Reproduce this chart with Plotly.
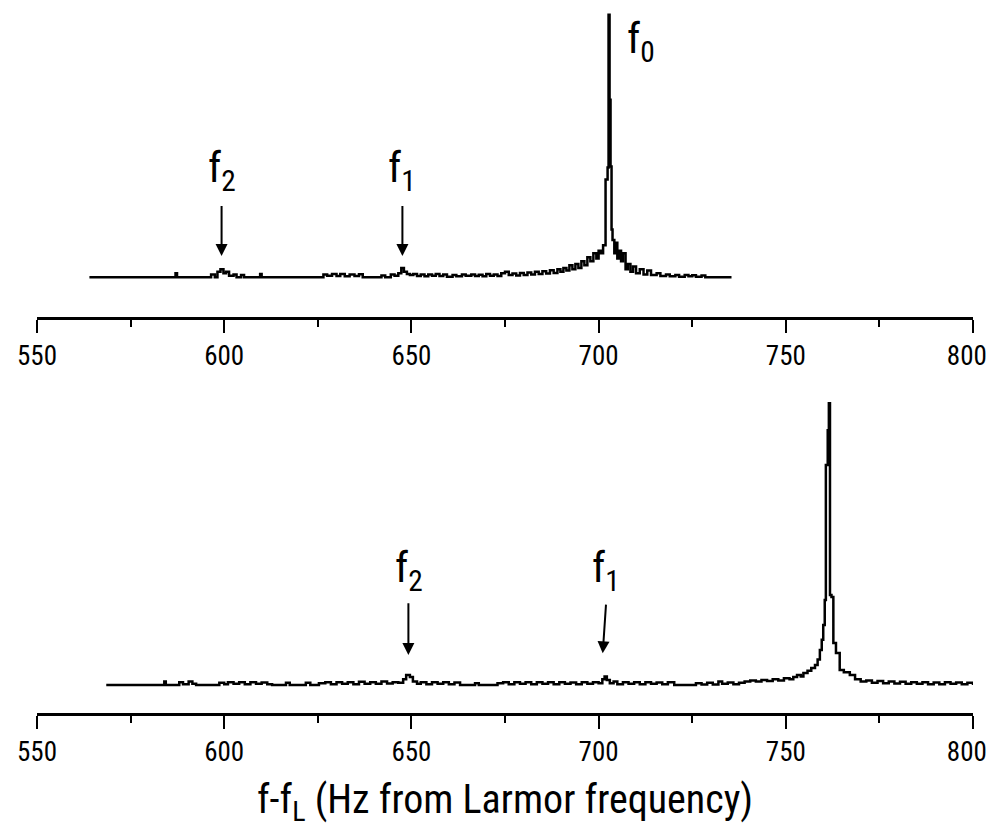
import plotly.graph_objects as go

# top spectrum (Hz from Larmor, relative amplitude)
top_freq = [564.0, 587.0, 587.4, 596.5, 597.5, 598.2, 599.0, 599.8, 600.5, 601.3, 602.5, 603.3,
            604.5, 605.3, 609.6, 610.0, 626.5, 627.5, 628.8, 630.0, 631.0, 632.2, 633.5, 634.8,
            636.0, 637.0, 642.0, 643.0, 644.5, 645.5, 646.5, 647.3, 648.0, 648.8, 649.6, 650.5,
            651.5, 652.5, 653.5, 654.5, 655.5, 656.5, 657.5, 658.5, 659.5, 661.0, 662.0, 663.5,
            664.5, 666.0, 667.0, 668.0, 669.0, 670.0, 671.0, 672.0, 673.0, 674.0, 675.0, 676.0,
            677.0, 678.0, 679.0, 680.0, 681.0, 682.0, 683.0, 684.0, 685.0, 686.0, 687.0, 688.0,
            689.0, 689.8, 690.6, 691.4, 692.2, 693.0, 693.8, 694.6, 695.4, 696.2, 697.0, 697.8,
            698.6, 699.4, 700.0, 700.6, 701.2, 701.86, 702.4, 702.66, 702.93, 703.19, 703.46, 703.72,
            704.2, 704.6, 705.0, 705.5, 706.0, 706.5, 707.2, 707.8, 708.5, 709.2, 710.0, 711.0,
            712.0, 713.0, 714.0, 715.5, 716.5, 718.0, 719.0, 720.5, 721.5, 723.0, 724.0, 725.0,
            726.0, 727.5, 728.5, 735.5]
top_amp = [0.0, 0.015, 0.0, 0.01, 0.0, 0.02, 0.03, 0.015, 0.02, 0.005, 0.01, 0.0,
           0.008, 0.0, 0.012, 0.0, 0.01, 0.005, 0.012, 0.004, 0.012, 0.003, 0.01, 0.004,
           0.011, 0.0, 0.006, 0.0, 0.01, 0.005, 0.015, 0.035, 0.02, 0.012, 0.008, 0.012,
           0.004, 0.01, 0.003, 0.01, 0.005, 0.012, 0.004, 0.01, 0.002, 0.008, 0.003, 0.01,
           0.005, 0.01, 0.004, 0.009, 0.003, 0.012, 0.005, 0.01, 0.004, 0.015, 0.02, 0.008,
           0.014, 0.006, 0.016, 0.008, 0.018, 0.01, 0.02, 0.012, 0.022, 0.014, 0.026, 0.016,
           0.03, 0.02, 0.035, 0.025, 0.045, 0.03, 0.05, 0.035, 0.06, 0.045, 0.075, 0.06,
           0.09, 0.07, 0.1, 0.09, 0.12, 0.368, 0.414, 0.99, 0.669, 0.417, 0.18, 0.14,
           0.09, 0.13, 0.07, 0.1, 0.06, 0.09, 0.03, 0.05, 0.02, 0.04, 0.015, 0.03,
           0.01, 0.025, 0.008, 0.015, 0.004, 0.01, 0.003, 0.008, 0.002, 0.008, 0.003, 0.007,
           0.002, 0.006, 0.0, 0.0]

# bottom spectrum
bot_freq = [568.5, 584.0, 584.4, 588.0, 589.0, 590.5, 591.5, 592.5, 598.7, 600.0, 601.0, 602.5,
            604.0, 605.5, 607.0, 608.5, 610.0, 611.5, 612.8, 616.5, 617.5, 621.8, 623.0, 625.3,
            627.0, 628.5, 630.0, 631.5, 633.0, 634.5, 636.0, 637.5, 639.0, 640.5, 642.0, 643.5,
            645.0, 646.5, 647.8, 648.6, 649.6, 650.4, 651.5, 652.5, 654.0, 655.5, 657.0, 658.5,
            660.0, 661.5, 663.0, 667.0, 668.0, 673.0, 674.5, 676.0, 677.5, 679.0, 680.5, 682.0,
            683.5, 685.0, 686.5, 688.0, 689.5, 691.0, 692.5, 694.0, 695.5, 697.0, 698.5, 700.0,
            701.0, 701.6, 702.2, 703.0, 704.0, 705.0, 706.5, 708.0, 709.5, 711.0, 712.5, 714.0,
            715.5, 717.0, 718.5, 720.2, 726.0, 727.5, 729.0, 730.5, 732.0, 733.0, 734.5, 736.0,
            737.5, 739.0, 740.5, 742.0, 743.5, 745.0, 746.5, 748.0, 749.5, 751.0, 752.0, 753.0,
            754.0, 754.7, 755.8, 756.8, 757.8, 758.5, 759.1, 759.6, 760.0, 760.4, 760.7, 761.2,
            761.5, 761.8, 762.2, 762.7, 763.4, 764.4, 765.5, 767.1, 768.5, 770.0, 771.5, 773.0,
            774.5, 776.0, 777.5, 779.0, 780.5, 782.0, 783.5, 785.0, 786.5, 788.0, 789.5, 791.0,
            792.5, 794.0, 795.5, 797.0, 798.5, 800.0]
bot_amp = [0.0, 0.012, 0.0, 0.01, 0.003, 0.012, 0.004, 0.0, 0.008, 0.003, 0.01, 0.004,
           0.01, 0.003, 0.01, 0.004, 0.009, 0.003, 0.0, 0.008, 0.0, 0.008, 0.0, 0.006,
           0.01, 0.003, 0.01, 0.004, 0.01, 0.003, 0.011, 0.004, 0.01, 0.004, 0.012, 0.005,
           0.01, 0.008, 0.02, 0.035, 0.028, 0.012, 0.004, 0.01, 0.003, 0.01, 0.004, 0.01,
           0.003, 0.009, 0.0, 0.006, 0.0, 0.006, 0.01, 0.003, 0.01, 0.004, 0.01, 0.003,
           0.01, 0.004, 0.01, 0.003, 0.01, 0.004, 0.009, 0.003, 0.01, 0.004, 0.01, 0.006,
           0.02, 0.03, 0.018, 0.006, 0.012, 0.003, 0.01, 0.004, 0.01, 0.003, 0.01, 0.004,
           0.009, 0.003, 0.01, 0.0, 0.006, 0.002, 0.008, 0.002, 0.012, 0.004, 0.009, 0.003,
           0.008, 0.012, 0.016, 0.012, 0.018, 0.014, 0.02, 0.016, 0.024, 0.02, 0.028, 0.035,
           0.03, 0.042, 0.05, 0.06, 0.071, 0.09, 0.124, 0.16, 0.212, 0.3, 0.777, 0.9,
           1.0, 0.318, 0.311, 0.148, 0.113, 0.053, 0.045, 0.035, 0.02, 0.012, 0.016, 0.008,
           0.014, 0.006, 0.012, 0.005, 0.011, 0.004, 0.01, 0.004, 0.01, 0.003, 0.009, 0.003,
           0.01, 0.004, 0.009, 0.003, 0.008, 0.0]

# axis ticks
tick_vals = [550, 600, 650, 700, 750, 800]
tick_text = ["550", "600", "650", "700", "750", "800&nbsp;&nbsp;"]

# peak labels: (text, x, y) and arrows: (x head, y head, x tail, y tail)
top_labels = [("f<sub>2</sub>", 599.4, 0.29), ("f<sub>1</sub>", 647.6, 0.29)]
top_arrows = [(599.3, 0.08, 599.3, 0.274), (647.6, 0.08, 647.6, 0.274)]
bot_labels = [("f<sub>2</sub>", 649.4, 0.30), ("f<sub>1</sub>", 701.9, 0.30)]
bot_arrows = [(649.2, 0.106, 649.2, 0.294), (701.1, 0.112, 702.0, 0.289)]

FONT = "Roboto Condensed, Liberation Sans, Arial, sans-serif"

fig = go.Figure()
fig.add_trace(go.Scatter(x=top_freq, y=top_amp, mode="lines", line_shape="hv",
                         line=dict(color="black", width=2.5), xaxis="x", yaxis="y"))
fig.add_trace(go.Scatter(x=bot_freq, y=bot_amp, mode="lines", line_shape="hv",
                         line=dict(color="black", width=2.5), xaxis="x2", yaxis="y2"))

xax = dict(range=[550, 800], showline=True, linewidth=2.5, linecolor="black",
           ticks="outside", ticklen=13, tickwidth=2, tickcolor="black",
           tickvals=tick_vals, ticktext=tick_text,
           showgrid=False, zeroline=False, ticklabeloverflow="allow",
           minor=dict(ticks="outside", ticklen=7, tickwidth=2, tickcolor="black",
                      tick0=550, dtick=25),
           tickfont=dict(family=FONT, size=27, color="black"))
yax = dict(visible=False, showgrid=False, zeroline=False)

fig.update_layout(
    width=995, height=820,
    margin=dict(l=29, r=26, t=4, b=115),
    paper_bgcolor="white", plot_bgcolor="white",
    showlegend=False,
    xaxis=dict(xax, anchor="y"),
    yaxis=dict(yax, domain=[0.565, 1.0], range=[-0.15, 1.0]),
    xaxis2=dict(xax, anchor="y2",
                title=dict(text="f-f<sub>L</sub> (Hz from Larmor frequency)",
                           font=dict(family=FONT, size=40, color="black"), standoff=18)),
    yaxis2=dict(yax, domain=[0.0, 0.4437], range=[-0.099, 1.0]),
)

lab_font = dict(family=FONT, size=42, color="black")
for ref, labels, arrows in [("", top_labels, top_arrows), ("2", bot_labels, bot_arrows)]:
    for text, x, y in labels:
        fig.add_annotation(x=x, y=y, xref="x" + ref, yref="y" + ref, text=text,
                           showarrow=False, yanchor="bottom", font=lab_font)
    for xh, yh, xt, yt in arrows:
        fig.add_annotation(x=xh, y=yh, ax=xt, ay=yt, xref="x" + ref, yref="y" + ref,
                           axref="x" + ref, ayref="y" + ref, text="", showarrow=True,
                           arrowhead=2, arrowsize=1.2, arrowwidth=2, arrowcolor="black")

fig.add_annotation(x=707.0, y=1.0, xref="x", yref="y", text="f<sub>0</sub>",
                   showarrow=False, xanchor="left", yanchor="top", font=lab_font)
fig.add_annotation(x=764.7, y=1.035, xref="x2", yref="y2", text="f<sub>0</sub>",
                   showarrow=False, xanchor="left", yanchor="top", font=lab_font)

fig.write_html("out.html")
